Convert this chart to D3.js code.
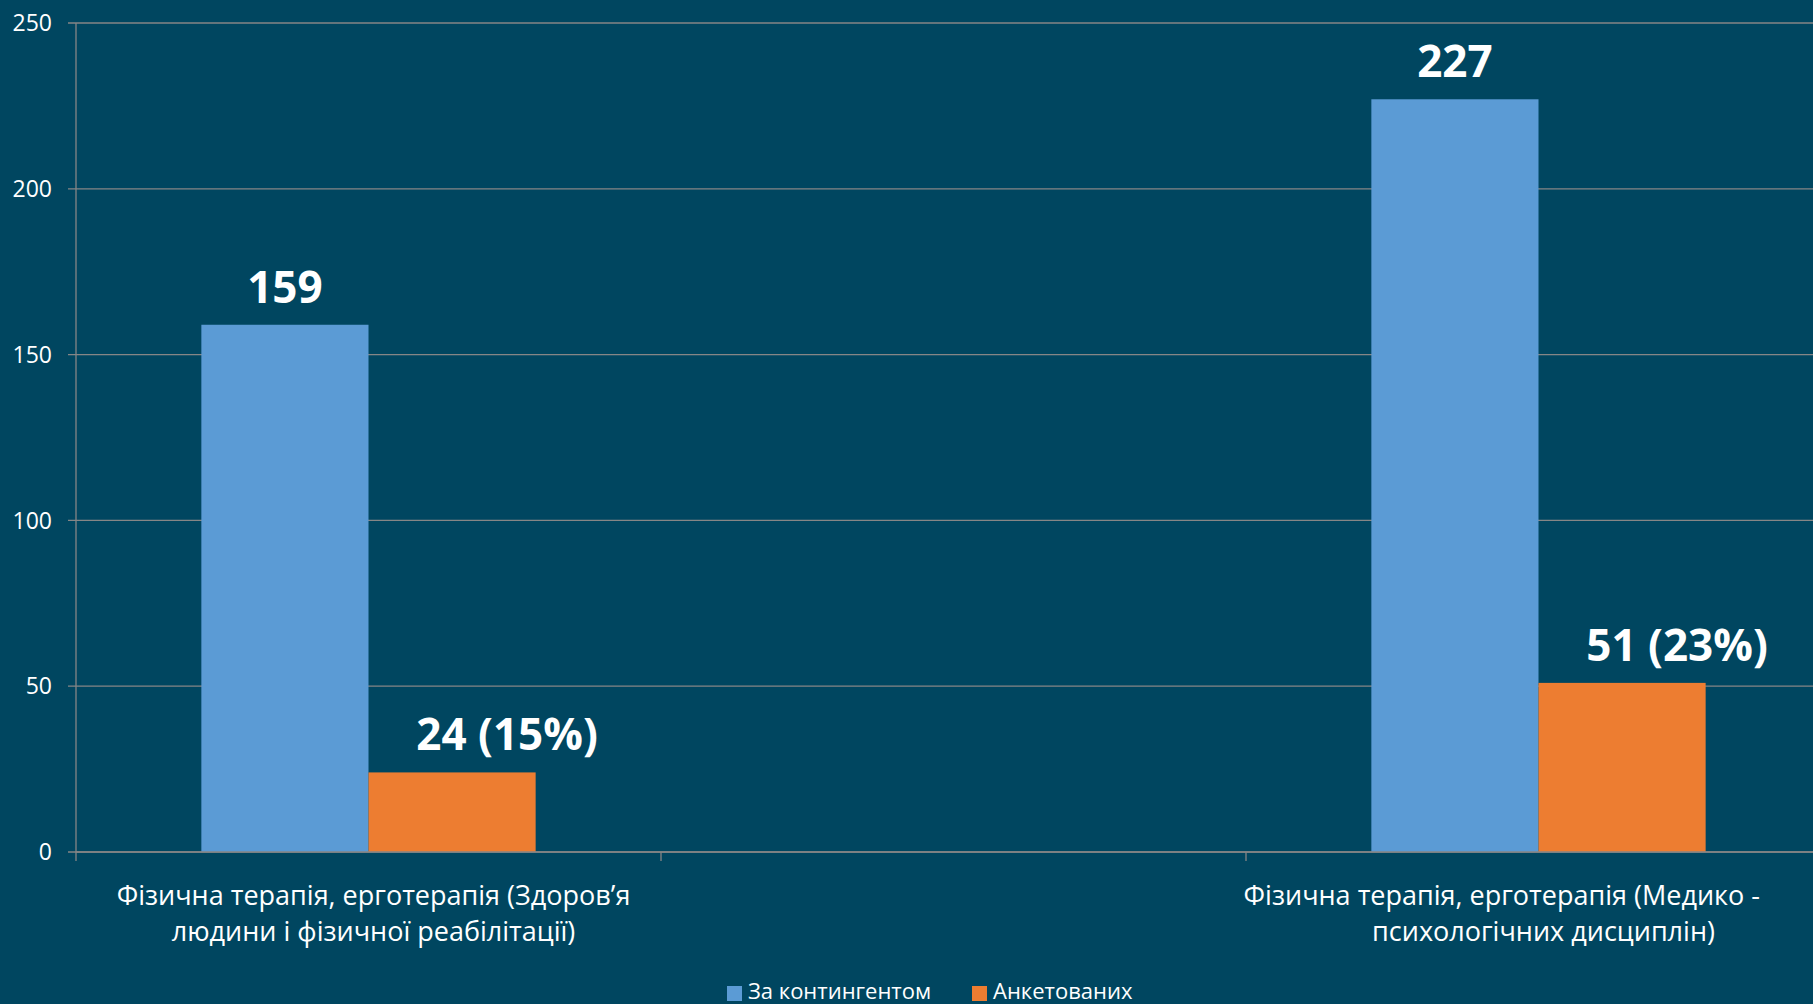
<!DOCTYPE html>
<html>
<head>
<meta charset="utf-8">
<script src="https://cdn.jsdelivr.net/npm/d3@7"></script>
<style>
  html, body { margin: 0; padding: 0; background: #004660; overflow: hidden; }
  text { font-family: "Open Sans", "Noto Sans", sans-serif; fill: #ffffff; }
</style>
</head>
<body>
<div id="chart"></div>
<script>
// categories (middle slot is an empty category, as in the source chart)
var categories = ["Здоров’я людини і фізичної реабілітації", "", "Медико - психологічних дисциплін"];
var categoryLines = [
    ["Фізична терапія, ерготерапія (Здоров’я", "людини і фізичної реабілітації)"],
    [],
    ["Фізична терапія, ерготерапія (Медико -", "психологічних дисциплін)"]
];
var seriesNames = ["За контингентом", "Анкетованих"];
var contingent = [159, null, 227];
var surveyed = [24, null, 51];
var surveyedShare = ["15%", null, "23%"];
var yTicks = [0, 50, 100, 150, 200, 250];

var width = 1813,
    height = 1004;

var colors = ["#5b9bd5", "#ed7d31"];
var gridColor = "#868686";
// the orange data labels sit a bit to the right of their bars in the original
var labelShift = [0, 55];

var svg = d3.select("#chart").append("svg")
    .attr("width", width)
    .attr("height", height);

svg.append("rect")
    .attr("width", width)
    .attr("height", height)
    .attr("fill", "#004660");

// plot area runs past the right edge of the picture
var x = d3.scaleBand().domain(categories).range([76, 1831]).padding(0);
var xSeries = d3.scaleBand().domain(seriesNames).range([0, x.bandwidth()]).paddingInner(0).paddingOuter(0.75);
var y = d3.scaleLinear().domain([0, 250]).range([852, 23]);

// gridlines + y labels
svg.selectAll(".grid")
    .data(yTicks)
    .enter().append("line")
    .attr("class", "grid")
    .attr("x1", 68)
    .attr("x2", width)
    .attr("y1", function(d) { return y(d); })
    .attr("y2", function(d) { return y(d); })
    .attr("stroke", gridColor)
    .attr("stroke-width", 1.3);

svg.selectAll(".ylabel")
    .data(yTicks)
    .enter().append("text")
    .attr("class", "ylabel")
    .attr("x", 52)
    .attr("y", function(d) { return y(d); })
    .attr("dy", "0.36em")
    .attr("text-anchor", "end")
    .style("font-size", "23px")
    .text(function(d) { return d; });

// y axis line
svg.append("line")
    .attr("x1", 76).attr("x2", 76)
    .attr("y1", y(250)).attr("y2", y(0))
    .attr("stroke", gridColor)
    .attr("stroke-width", 1.3);

// category tick marks
var boundaries = categories.map(function(c) { return x(c); });
svg.selectAll(".xtick")
    .data(boundaries)
    .enter().append("line")
    .attr("class", "xtick")
    .attr("x1", function(d) { return d; })
    .attr("x2", function(d) { return d; })
    .attr("y1", y(0))
    .attr("y2", y(0) + 9)
    .attr("stroke", gridColor)
    .attr("stroke-width", 1.3);

// bars
var rows = [];
categories.forEach(function(c, i) {
    if (contingent[i] !== null) {
        rows.push({ cat: c, s: 0, value: contingent[i], label: String(contingent[i]) });
    }
    if (surveyed[i] !== null) {
        rows.push({ cat: c, s: 1, value: surveyed[i], label: surveyed[i] + " (" + surveyedShare[i] + ")" });
    }
});

svg.selectAll(".bar")
    .data(rows)
    .enter().append("rect")
    .attr("class", "bar")
    .attr("x", function(d) { return x(d.cat) + xSeries(seriesNames[d.s]); })
    .attr("y", function(d) { return y(d.value); })
    .attr("width", xSeries.bandwidth())
    .attr("height", function(d) { return y(0) - y(d.value); })
    .attr("fill", function(d) { return colors[d.s]; });

svg.selectAll(".vlabel")
    .data(rows)
    .enter().append("text")
    .attr("class", "vlabel")
    .attr("x", function(d) { return x(d.cat) + xSeries(seriesNames[d.s]) + xSeries.bandwidth() / 2 + labelShift[d.s]; })
    .attr("y", function(d) { return y(d.value) - 22; })
    .attr("text-anchor", "middle")
    .style("font-size", "44px")
    .style("font-weight", "bold")
    .text(function(d) { return d.label; });

// x axis line drawn over bar bottoms
svg.append("line")
    .attr("x1", 76).attr("x2", width)
    .attr("y1", y(0)).attr("y2", y(0))
    .attr("stroke", gridColor)
    .attr("stroke-width", 1.3);

// category labels, kept inside the visible right edge
var rightLimit = 1760;
categories.forEach(function(c, i) {
    var cx = x(c) + x.bandwidth() / 2;
    categoryLines[i].forEach(function(line, j) {
        var t = svg.append("text")
            .attr("y", 905 + j * 36)
            .attr("text-anchor", "middle")
            .style("font-size", "27px")
            .text(line);
        var w = t.node().getComputedTextLength();
        t.attr("x", Math.min(cx + 5, rightLimit - w / 2));
    });
});

// legend
var legend = svg.selectAll(".legend-item")
    .data(seriesNames)
    .enter().append("g")
    .attr("class", "legend-item")
    .attr("transform", function(d, i) { return "translate(" + (727 + i * 245) + ",0)"; });

legend.append("rect")
    .attr("y", 986)
    .attr("width", 15)
    .attr("height", 15)
    .attr("fill", function(d, i) { return colors[i]; });

legend.append("text")
    .attr("x", 21)
    .attr("y", 999)
    .style("font-size", "22px")
    .text(function(d) { return d; });
</script>
</body>
</html>
